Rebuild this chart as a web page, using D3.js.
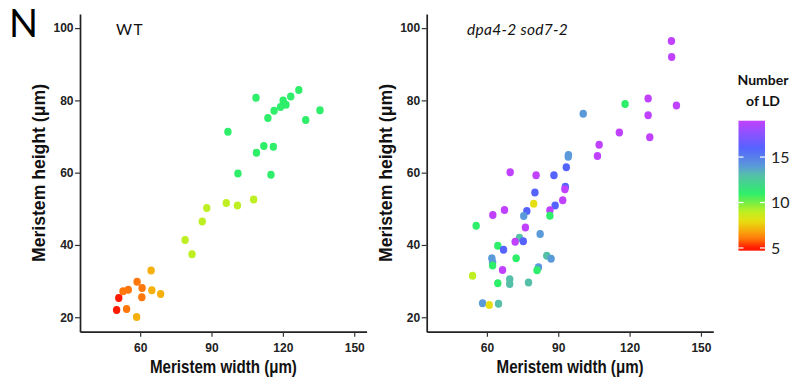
<!DOCTYPE html>
<html><head><meta charset="utf-8">
<script src="https://cdn.jsdelivr.net/npm/d3@7"></script>
<style>
html,body{margin:0;padding:0;background:#fff;}
svg{display:block;}
.tick-lbl{font-family:"Liberation Sans",Arial,sans-serif;font-weight:bold;font-size:12px;fill:#222;}
.ax-title{font-family:"Liberation Sans",Arial,sans-serif;font-weight:bold;font-size:17.5px;fill:#111;}
</style>
</head><body>
<svg id="chart" width="809" height="381"></svg>
<script>
// ---- Data ----
const wtWidth  = [108.7, 96.9, 126.7, 123.3, 120.1, 121.3, 119.0, 116.3, 113.7, 135.6, 129.6, 112.0, 116.0, 108.9, 101.1, 115.0,
                  107.7, 96.2, 100.9, 88.0, 86.1, 78.9, 81.8,
                  64.6, 58.7, 60.8, 55.0, 52.8, 51.0, 64.9, 68.6, 60.7, 50.1, 54.3, 58.5];
const wtHeight = [80.7, 71.3, 82.9, 81.1, 80.0, 78.8, 78.2, 77.1, 75.1, 77.3, 74.6, 67.4, 67.2, 65.5, 59.8, 59.4,
                  52.6, 51.6, 50.9, 50.2, 46.5, 41.4, 37.4,
                  32.9, 29.8, 28.1, 27.6, 27.2, 25.3, 27.5, 26.4, 25.5, 22.0, 22.3, 20.1];
const wtLD     = [11, 11, 11, 11, 11, 11, 11, 11, 11, 11, 11, 11, 11, 11, 11, 11,
                  9, 9, 9, 9, 9, 9, 9,
                  7, 6, 6, 6, 6, 5, 7, 7, 6, 5, 6, 7];

const mutWidth  = [137.6, 137.7, 139.7, 127.8, 127.8, 128.5, 118.1, 100.5, 115.7, 107.2, 106.5,
                   94.3, 94.2, 93.4, 88.2, 80.7, 69.8, 93.0, 92.8, 80.2, 91.9, 88.7, 79.7, 86.5, 86.5, 76.8, 75.5, 67.4, 62.5,
                   55.5, 76.2, 82.4, 73.7, 71.9, 75.3, 64.6, 67.0, 72.3, 62.1, 62.4, 62.4, 85.2, 87.0, 81.7, 81.1, 66.6,
                   54.0, 64.6, 69.6, 69.6, 77.5, 58.2, 61.0, 64.9];
const mutHeight = [96.4, 92.0, 78.6, 80.5, 75.9, 69.8, 79.0, 76.3, 71.1, 67.7, 64.6,
                   64.9, 64.4, 61.5, 59.3, 59.3, 60.1, 56.1, 55.4, 54.5, 52.4, 50.9, 51.4, 49.6, 48.1, 49.4, 48.0, 49.7, 48.3,
                   45.3, 44.8, 43.0, 42.0, 40.9, 41.0, 39.8, 38.7, 36.3, 36.3, 35.2, 34.3, 37.0, 36.2, 33.8, 33.0, 33.1,
                   31.5, 29.4, 30.5, 29.2, 29.6, 23.9, 23.4, 23.7];
const mutLD     = [19, 19, 19, 19, 19, 19, 11, 14, 19, 19, 19,
                   14, 14, 16, 16, 19, 19, 16, 19, 16, 19, 16, 8, 19, 11, 16, 14, 19, 19,
                   11, 19, 14, 13, 19, 16, 11, 16, 11, 14, 14, 11, 13, 14, 14, 11, 19,
                   9, 11, 13, 13, 13, 14, 8, 13];

const xTicks = [60, 90, 120, 150];
const yTicks = [20, 40, 60, 80, 100];
const legendTicks = [5, 10, 15];
const ldStops  = [5, 6, 7, 8, 9, 11, 13, 14, 16, 19];
const ldColors = ["#ff1a00", "#ff760a", "#f5b00c", "#e6e012", "#bdef22", "#2eee6a", "#55bfa8", "#5a9ad8", "#5563ff", "#c042ff"];

// ---- Drawing ----
const svg = d3.select("#chart");
const color = d3.scaleLinear().domain(ldStops).range(ldColors).clamp(true);

const panels = [
  {w: wtWidth, h: wtHeight, c: wtLD, x0: 80, label: "WT", italic: false, labelX: 116},
  {w: mutWidth, h: mutHeight, c: mutLD, x0: 426.7, label: "dpa4-2 sod7-2", italic: true, labelX: 467}
];

panels.forEach(p => {
  const x = d3.scaleLinear().domain([34.7, 155.2]).range([p.x0, p.x0 + 286.6]);
  const y = d3.scaleLinear().domain([16, 103.9]).range([331.7, 14]);
  const g = svg.append("g");

  // axes
  const xa = g.append("g").attr("transform", "translate(0,331.7)")
    .call(d3.axisBottom(x).tickValues(xTicks).tickSize(5).tickPadding(3).tickSizeOuter(0));
  const ya = g.append("g").attr("transform", `translate(${p.x0},0)`)
    .call(d3.axisLeft(y).tickValues(yTicks).tickSize(5).tickPadding(1.5).tickSizeOuter(0));
  [xa, ya].forEach(a => {
    a.select(".domain").attr("stroke", "#222").attr("stroke-width", 1.7);
    a.selectAll(".tick line").attr("stroke", "#333").attr("stroke-width", 1.2);
    a.selectAll(".tick text").attr("class", "tick-lbl").attr("fill", null);
  });
  xa.selectAll(".tick text").attr("y", 12).attr("dy", "0.71em");

  // points
  const data = p.w.map((v, i) => ({x: v, y: p.h[i], c: p.c[i]}));
  g.append("g").selectAll("ellipse").data(data).join("ellipse")
    .attr("cx", d => x(d.x)).attr("cy", d => y(d.y)).attr("rx", 3.7).attr("ry", 4.0)
    .attr("fill", d => color(d.c));

  // titles
  g.append("text").attr("class", "ax-title").attr("x", x(95)).attr("y", 372.5)
    .attr("text-anchor", "middle").attr("textLength", 147).attr("lengthAdjust", "spacingAndGlyphs")
    .text("Meristem width (μm)");
  g.append("text").attr("class", "ax-title")
    .attr("transform", `translate(${p.x0 - 35},173) rotate(-90)`)
    .attr("text-anchor", "middle").attr("textLength", 178).attr("lengthAdjust", "spacingAndGlyphs")
    .text("Meristem height (μm)");
  g.append("text").attr("x", p.labelX).attr("y", 35)
    .attr("font-family", "Lato, 'Open Sans', sans-serif").attr("font-size", 15.5)
    .attr("font-style", p.italic ? "italic" : "normal")
    .attr("letter-spacing", p.italic ? 0.3 : 1.5)
    .attr("fill", "#111").text(p.label);
});

// panel letter
svg.append("text").attr("x", 9).attr("y", 36.5)
  .attr("font-family", "Lato, 'Open Sans', sans-serif").attr("font-size", 38)
  .attr("fill", "#000").text("N");

// legend
const ly = d3.scaleLinear().domain([4.7, 19]).range([250.7, 120.7]);
const defs = svg.append("defs");
const grad = defs.append("linearGradient").attr("id", "ldgrad")
  .attr("x1", 0).attr("y1", 1).attr("x2", 0).attr("y2", 0);
d3.range(0, 1.0001, 0.02).forEach(t => {
  const v = 4.7 + t * (19 - 4.7);
  grad.append("stop").attr("offset", t).attr("stop-color", color(v));
});
svg.append("rect").attr("x", 738.5).attr("y", ly(19)).attr("width", 26.5)
  .attr("height", ly(4.7) - ly(19)).attr("fill", "url(#ldgrad)");
const lg = svg.append("g");
legendTicks.forEach(v => {
  lg.append("line").attr("x1", 738.5).attr("x2", 743.5).attr("y1", ly(v)).attr("y2", ly(v))
    .attr("stroke", "#fff").attr("stroke-width", 1.2);
  lg.append("line").attr("x1", 760).attr("x2", 765).attr("y1", ly(v)).attr("y2", ly(v))
    .attr("stroke", "#fff").attr("stroke-width", 1.2);
  lg.append("text").attr("x", 771).attr("y", ly(v)).attr("dy", "0.36em")
    .attr("font-family", "Lato, 'Open Sans', sans-serif").attr("font-size", 16)
    .attr("fill", "#222").text(v);
});
lg.append("text").attr("x", 763).attr("y", 85).attr("text-anchor", "middle")
  .attr("font-family", "Lato, 'Open Sans', sans-serif").attr("font-weight", "bold").attr("font-size", 14)
  .attr("fill", "#111").text("Number");
lg.append("text").attr("x", 763).attr("y", 106).attr("text-anchor", "middle")
  .attr("font-family", "Lato, 'Open Sans', sans-serif").attr("font-weight", "bold").attr("font-size", 14)
  .attr("fill", "#111").text("of LD");
</script>
</body></html>
